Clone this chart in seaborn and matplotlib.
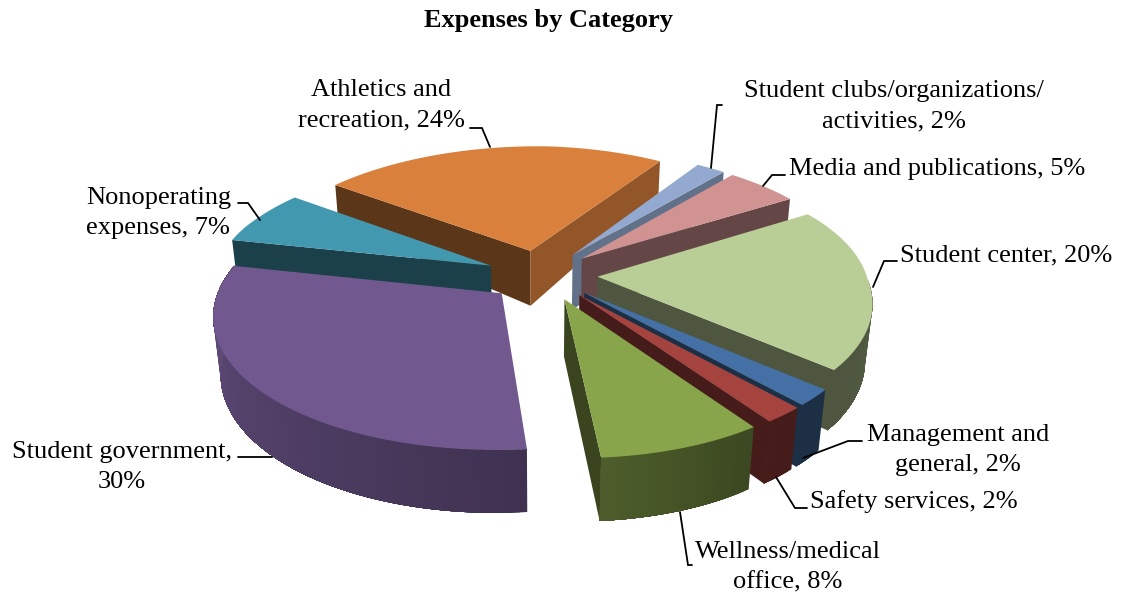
import numpy as np
import matplotlib
matplotlib.use('Agg')
import matplotlib.pyplot as plt
import seaborn as sns

# Slices, clockwise from the top right
categories = ['Student center', 'Management and general', 'Safety services',
              'Wellness/medical office', 'Student government', 'Nonoperating expenses',
              'Athletics and recreation', 'Student clubs/organizations/activities',
              'Media and publications']
values = [20, 2, 2, 8, 30, 7, 24, 2, 5]
top_colors = ['#B9CD96', '#4470A5', '#A5433F', '#89A54B', '#71588F',
              '#4198AF', '#D9803C', '#93A9CF', '#D19392']

sns.set_theme(style='white')
plt.rcParams['font.family'] = ['Liberation Serif', 'DejaVu Serif']
palette = sns.color_palette(top_colors)

# Fake 3D camera, in pixels
cx, cy = 542, 275
rx, ry = 278, 127
persp = 0.15
explode = 0.2
start = 34


def project(x, y):
    w = 1 + persp * y
    right = np.maximum(x, 0)
    squeeze = 1 - 0.02 * right * np.clip(1 - 2 * y, 0, 1)
    sx = cx + rx * x * squeeze / w + 8 * np.clip(y - 0.4, 0, 1)
    return sx, cy - ry * y / w + 4 * np.minimum(right, 1)


def warp(ang):
    # the original's perspective pulls the far left and the front round a little
    return ang - 2.0 * (1 - np.cos(np.radians(ang - 47)))


def drop(sx, y):
    # how far the bottom of the pie sits under a point of the top
    h = np.interp(y, [-1.3, -0.6, -0.18, 0.19, 1.05, 1.3], [64, 60, 57, 55, 32, 28])
    return sx - (sx - 540) * 0.025 * h / 64, h


def rim_shade(phi):
    phi = (phi + 180) % 360 - 180
    return np.interp(phi, [-180, -81, -52, -30, 180], [0.85, 0.55, 0.42, 0.42, 0.85])


def face_shade(phi):
    phi = (phi + 180) % 360 - 180
    return np.interp(phi, [-180, -99, -54, -37, 0], [0.42, 0.42, 0.48, 0.68, 0.65])


def darker(color, f):
    return tuple(np.array(color) * f)


def quad(ax, x, y, color, z):
    ax.fill(x, y, facecolor=color, edgecolor='none', linewidth=0, zorder=z)


fig = plt.figure(figsize=(11.23, 5.94), dpi=100)
ax = fig.add_axes([0, 0, 1, 1])
ax.set_xlim(0, 1123)
ax.set_ylim(594, 0)
ax.axis('off')

ends = start - 3.6 * np.cumsum(values)
begins = ends + 3.6 * np.array(values)
mids = (begins + ends) / 2
order = np.argsort(-np.sin(np.radians(mids)))

z = 2
for i in order:
    ox = explode * np.cos(np.radians(mids[i]))
    oy = explode * np.sin(np.radians(mids[i]))
    ang = np.linspace(begins[i], ends[i], int(values[i] * 3) + 2)
    drawn = warp(ang)
    mx = ox + np.cos(np.radians(drawn))
    my = oy + np.sin(np.radians(drawn))
    top_x, top_y = project(mx, my)
    bot_x, h = drop(top_x, my)
    bot_y = top_y + h
    ax0, ay0 = project(ox, oy)
    abx, ah = drop(ax0, oy)
    color = palette[i]

    # flat side faces, only those turned to the viewer
    for k, phi in [(0, drawn[0] + 90), (-1, drawn[-1] - 90)]:
        if np.sin(np.radians(phi)) < 0:
            quad(ax, [ax0, top_x[k], bot_x[k], abx], [ay0, top_y[k], bot_y[k], ay0 + ah],
                 darker(color, face_shade(phi)), z)
    z += 1
    # outer rim: each band runs on to the end of the slice so no seams show
    for k in range(len(ang) - 1):
        if np.sin(np.radians(drawn[k])) < 0 or np.sin(np.radians(drawn[k + 1])) < 0:
            quad(ax, np.r_[top_x[k:], bot_x[k:][::-1]], np.r_[top_y[k:], bot_y[k:][::-1]],
                 darker(color, rim_shade((drawn[k] + drawn[k + 1]) / 2)), z)
    z += 1
    # top
    quad(ax, np.r_[ax0, top_x], np.r_[ay0, top_y], color, z)
    z += 1

# Leader lines
leaders = [
    ([470, 482, 490], [128, 128, 147]),
    ([238, 248, 260], [203, 203, 220]),
    ([238, 272], [457, 457]),
    ([722, 717, 711], [105, 105, 168]),
    ([785, 772, 763], [175, 175, 186]),
    ([897, 884, 873], [261, 261, 287]),
    ([862, 848, 803], [441, 441, 458]),
    ([807, 795, 776], [508, 508, 477]),
    ([692, 688, 680], [565, 565, 512]),
]
for lx, ly in leaders:
    ax.plot(lx, ly, color='black', lw=1.3, zorder=z, solid_joinstyle='miter')

fs = 19
ax.text(548, 20, 'Expenses by Category', fontsize=fs, fontweight='bold',
        ha='center', va='center', color='black')
labels = [
    (381, 105, 'Athletics and\nrecreation, 24%', 'center'),
    (894, 106, 'Student clubs/organizations/\nactivities, 2%', 'center'),
    (789, 169, 'Media and publications, 5%', 'left'),
    (900, 255, 'Student center, 20%', 'left'),
    (958, 450, 'Management and\ngeneral, 2%', 'center'),
    (810, 502, 'Safety services, 2%', 'left'),
    (788, 567, 'Wellness/medical\noffice, 8%', 'center'),
    (122, 467, 'Student government,\n30%', 'center'),
    (86, 213, 'Nonoperating\nexpenses, 7%', 'left'),
]
for tx, ty, s, ha in labels:
    ax.text(tx, ty, s, fontsize=fs, ha=ha, va='center', multialignment=ha,
            color='black', linespacing=1.52, zorder=z + 1)

fig.savefig('out.png', dpi=100, facecolor='white')
